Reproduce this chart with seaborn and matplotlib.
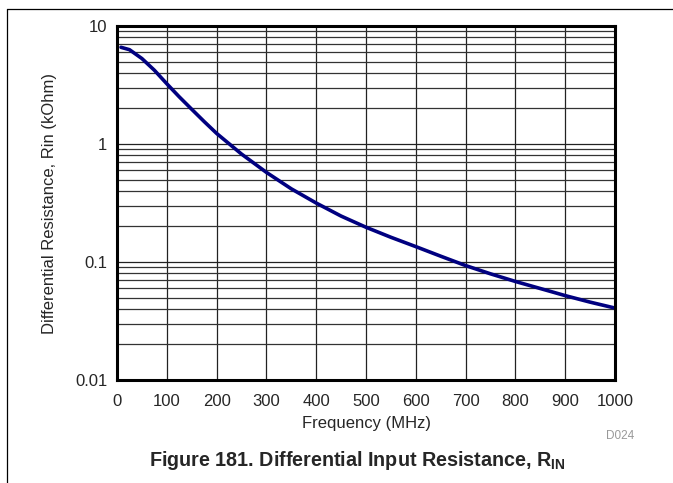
import matplotlib
matplotlib.use("Agg")
import matplotlib.pyplot as plt
from matplotlib.lines import Line2D
from matplotlib.ticker import LogLocator, FixedLocator, NullFormatter
import seaborn as sns
import pandas as pd

# values
freq_mhz = [8, 25, 50, 75, 100, 125, 150, 175, 200, 250, 300, 350, 400, 450, 500,
            550, 600, 650, 700, 750, 800, 850, 900, 950, 1000]
rin_kohm = [6.6, 6.3, 5.3, 4.22, 3.24, 2.51, 1.97, 1.55, 1.23, 0.822, 0.575, 0.417, 0.316, 0.245, 0.197,
            0.162, 0.135, 0.112, 0.0933, 0.0794, 0.0684, 0.0596, 0.0519, 0.0457, 0.0407]
x_ticks = [0, 100, 200, 300, 400, 500, 600, 700, 800, 900, 1000]
y_ticks = [0.01, 0.1, 1, 10]
y_tick_labels = ["0.01", "0.1", "1", "10"]

sns.set_style("white")
plt.rcParams['font.family'] = ['Liberation Sans', 'DejaVu Sans']
plt.rcParams['mathtext.fontset'] = 'custom'
plt.rcParams['mathtext.bf'] = 'Liberation Sans:bold'
plt.rcParams['mathtext.rm'] = 'Liberation Sans'

df = pd.DataFrame({"Frequency": freq_mhz, "Rin": rin_kohm})

fig = plt.figure(figsize=(6.73, 4.83), dpi=100)
# axes box in pixels: left 117, right 615, top 26, bottom 380
ax = fig.add_axes([117 / 673, 1 - 380 / 483, (615 - 117) / 673, (380 - 26) / 483])

sns.lineplot(data=df, x="Frequency", y="Rin", ax=ax, color="#000080", linewidth=2.6)

ax.set_yscale("log")
ax.set_xlim(0, 1000)
ax.set_ylim(0.01, 10)
ax.xaxis.set_major_locator(FixedLocator(x_ticks))
ax.yaxis.set_major_locator(FixedLocator(y_ticks))
ax.set_yticklabels(y_tick_labels)
ax.yaxis.set_minor_locator(LogLocator(base=10, subs=range(2, 10)))
ax.yaxis.set_minor_formatter(NullFormatter())

# grid
ax.grid(True, which="major", axis="both", color="#222222", linewidth=0.9)
ax.grid(True, which="minor", axis="y", color="#333333", linewidth=0.9)
ax.set_axisbelow(True)

for s in ax.spines.values():
    s.set_visible(True)
    s.set_color("black")
    s.set_linewidth(2.2)

ax.tick_params(axis="both", which="both", length=0, labelsize=12, pad=7)
ax.tick_params(axis="x", pad=10)
ax.set_xlabel("Frequency (MHz)", fontsize=12, labelpad=5)
ax.set_ylabel("Differential Resistance, Rin (kOhm)", fontsize=12, labelpad=13)

# figure frame lines (top and left)
fig.add_artist(Line2D([7 / 673, 1], [1 - 9 / 483, 1 - 9 / 483], color="black", linewidth=0.9))
fig.add_artist(Line2D([7 / 673, 7 / 673], [0, 1 - 9 / 483], color="black", linewidth=0.9))

fig.text(620 / 673, 1 - 436 / 483, "D024", fontsize=8.5, color="#999999", ha="center", va="center")
fig.text(357 / 673, 1 - 461 / 483, r"Figure 181. Differential Input Resistance, R$_\mathbf{IN}$",
         fontsize=14.2, fontweight="bold", ha="center", va="center")

fig.savefig("out.png", dpi=100)
